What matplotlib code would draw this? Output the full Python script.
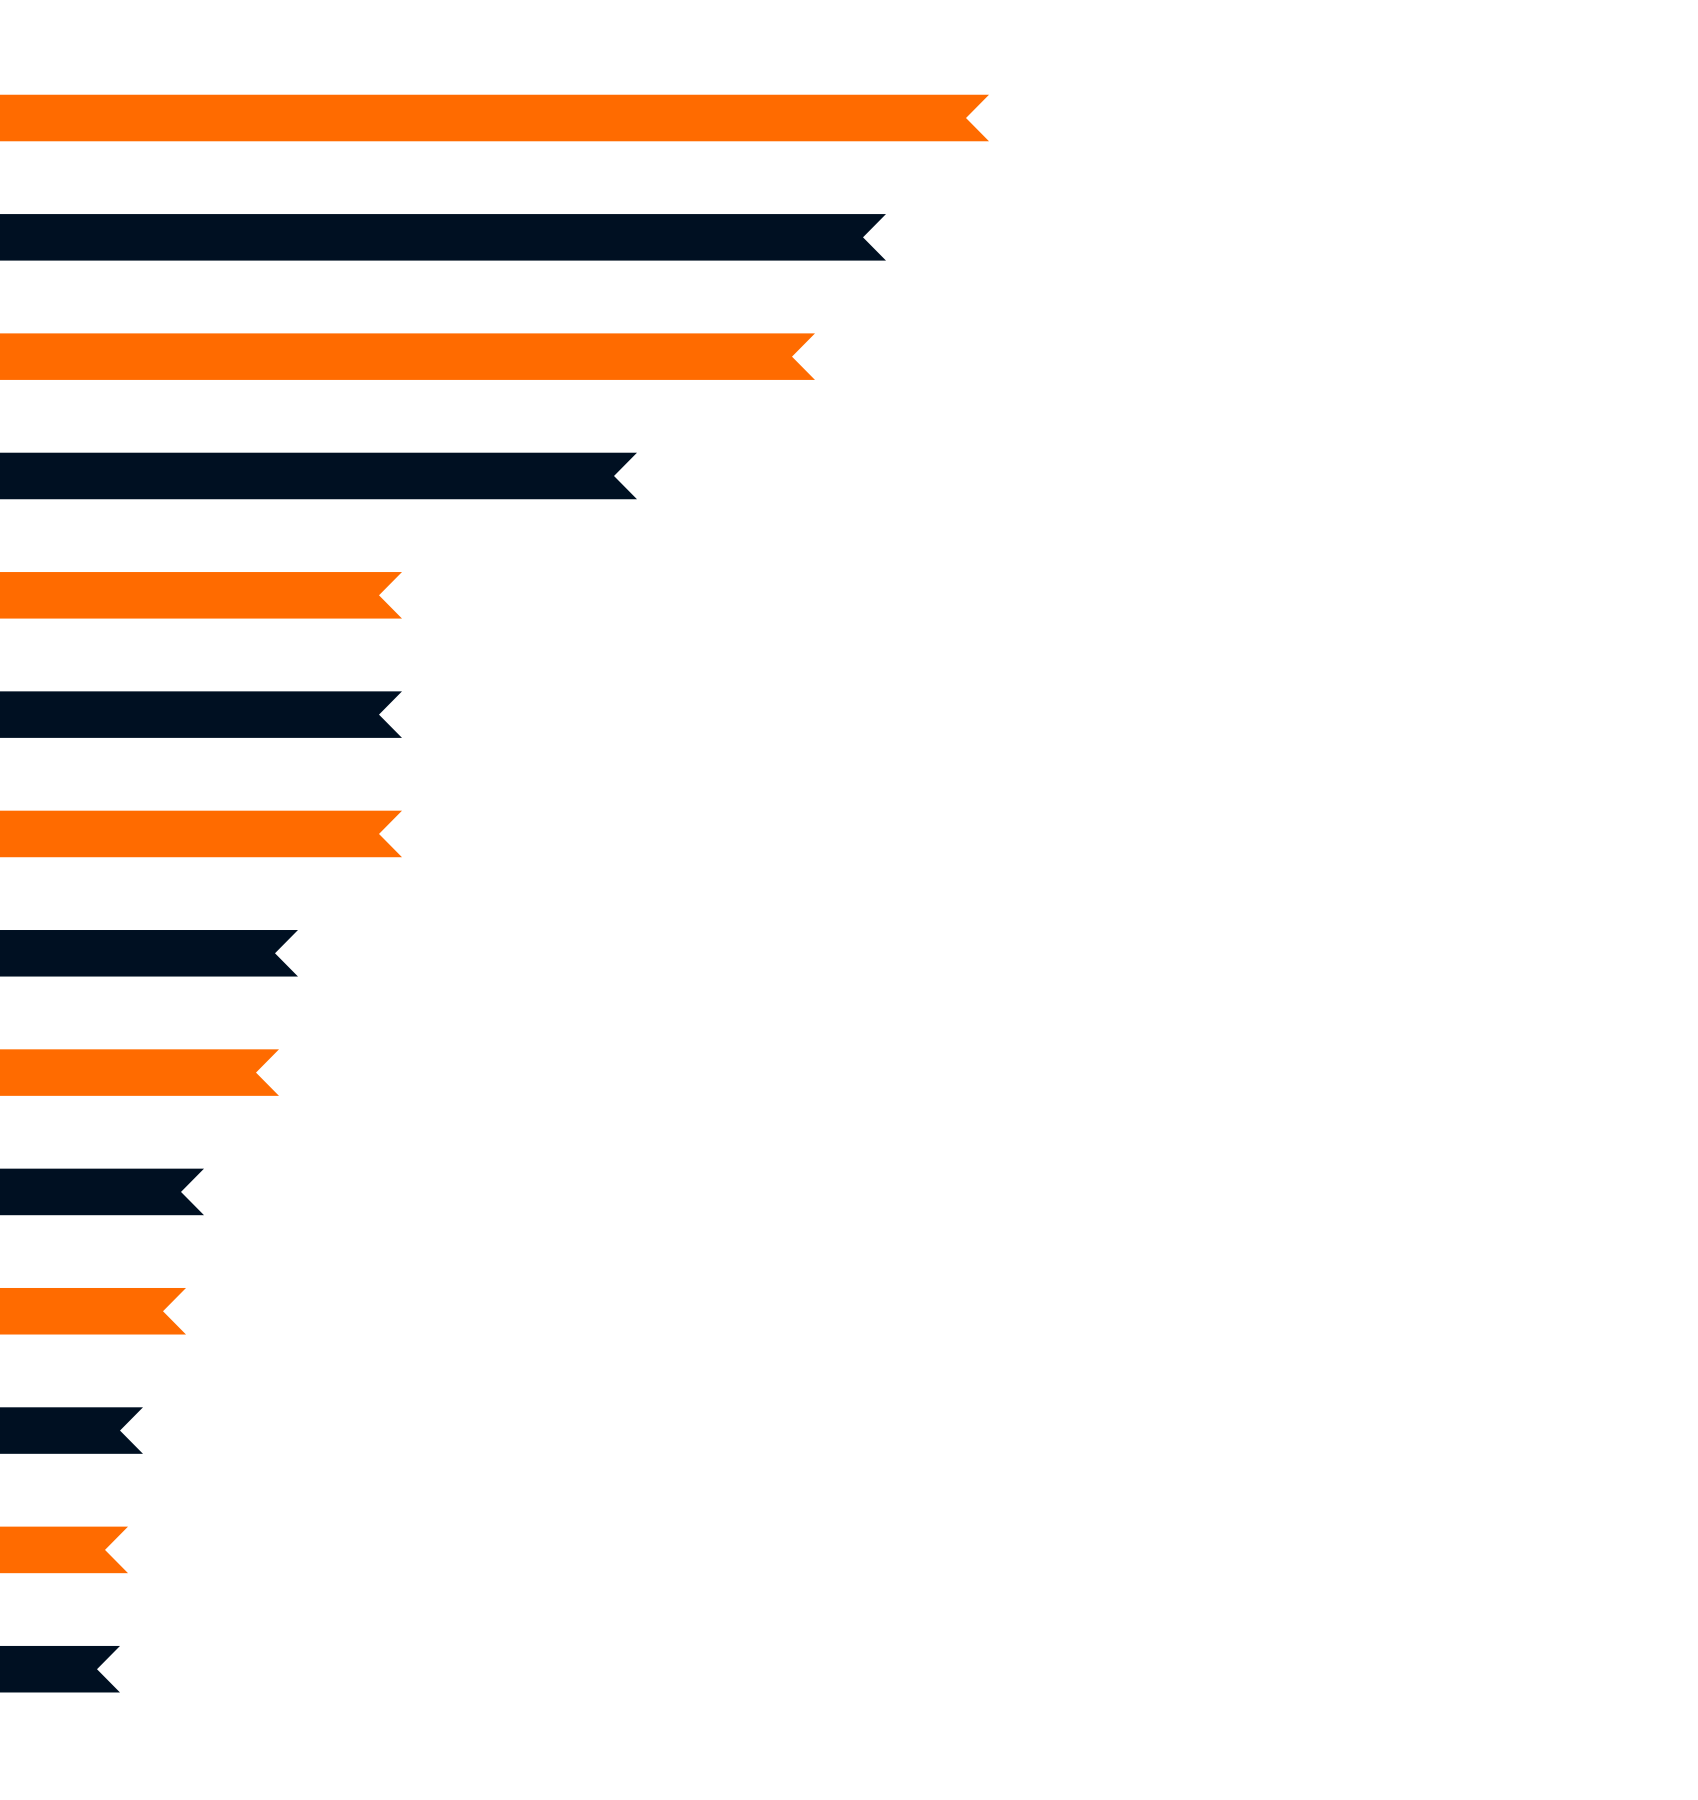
import numpy as np
import matplotlib.pyplot as plt

# Longueurs des barres (de haut en bas)
values = [98.9, 88.6, 81.5, 63.7, 40.2, 40.2, 40.2, 29.8, 27.9, 20.4, 18.6, 14.3, 12.8, 12.0]
colors = ["#FF6B00", "#001022"] * 7

bar_height = 0.39   # fraction de l'espacement entre barres
notch = 2.3         # profondeur de l'encoche (unités de x)

fig = plt.figure(figsize=(16.98, 18), dpi=100)
ax = fig.add_axes([0, 0, 1, 1])

for i, (v, c) in enumerate(zip(values, colors)):
    y0 = i - bar_height / 2
    y1 = i + bar_height / 2
    xs = [0, v, v - notch, v, 0]
    ys = [y0, y0, i, y1, y1]
    ax.fill(xs, ys, color=c, linewidth=0)

ax.set_xlim(0, 169.8)
ax.set_ylim(14.096, -0.989)
ax.axis("off")

fig.savefig("out.png", dpi=100, facecolor="white")
